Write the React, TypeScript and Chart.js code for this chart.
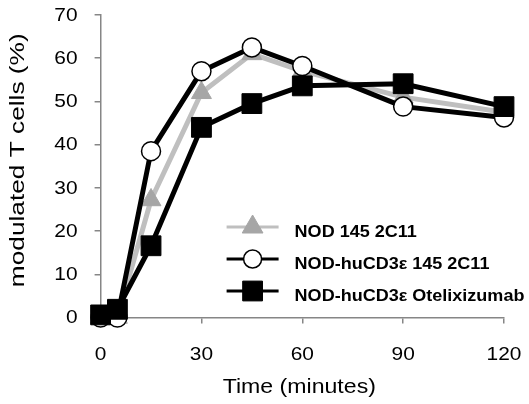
import React, { useEffect, useRef } from 'react';
import { Chart, registerables } from 'chart.js';

Chart.register(...registerables);

// ---- data ----
const timesMin = [0, 5, 15, 30, 45, 60, 90, 120];
const nod145 = [0, 0, 27.2, 52, 61, 57, 51, 47.5];
const huCD3e145 = [0, 0, 38.5, 57, 62.5, 58.2, 48.8, 46.3];
const huCD3eOtel = [0.6, 1.9, 16.6, 44, 49.5, 53.6, 54.1, 48.8];
const seriesLabels = ['NOD 145 2C11', 'NOD-huCD3ε 145 2C11', 'NOD-huCD3ε Otelixizumab'];
const xTickValues = [0, 30, 60, 90, 120];
const yTickValues = [0, 10, 20, 30, 40, 50, 60, 70];
const xTitle = 'Time (minutes)';
const yTitle = 'modulated T cells (%)';

const AXIS_GRAY = '#868686';
const LINE_GRAY = '#BFBFBF';
const MARK_GRAY = '#A6A6A6';
const SANS = '"Liberation Sans", Arial, sans-serif';

function stretchedText(ctx: CanvasRenderingContext2D, text: string, x: number, y: number, sx: number, align: CanvasTextAlign, rot = 0) {
  ctx.save();
  ctx.translate(x, y);
  if (rot) ctx.rotate(rot);
  ctx.scale(sx, 1);
  ctx.textAlign = align;
  ctx.textBaseline = 'middle';
  ctx.fillText(text, 0, 0);
  ctx.restore();
}

function drawMarker(ctx: CanvasRenderingContext2D, style: string, x: number, y: number, r: number, fill: string, stroke: string, bw: number) {
  ctx.save();
  ctx.fillStyle = fill;
  ctx.strokeStyle = stroke;
  ctx.lineWidth = bw;
  ctx.beginPath();
  if (style === 'triangle') {
    for (let k = 0; k < 3; k++) {
      const a = (k * 2 * Math.PI) / 3;
      const px = x + Math.sin(a) * r;
      const py = y - Math.cos(a) * r;
      if (k === 0) ctx.moveTo(px, py);
      else ctx.lineTo(px, py);
    }
    ctx.closePath();
  } else if (style === 'circle') {
    ctx.arc(x, y, r, 0, Math.PI * 2);
  } else {
    const s = Math.SQRT1_2 * r;
    ctx.rect(x - s, y - s, 2 * s, 2 * s);
  }
  ctx.fill();
  if (bw > 0) ctx.stroke();
  ctx.restore();
}

const labelPlugin = {
  id: 'stretchedLabels',
  afterDraw(chart: any) {
    const ctx: CanvasRenderingContext2D = chart.ctx;
    const xs = chart.scales.x;
    const ys = chart.scales.y;
    const area = chart.chartArea;
    ctx.save();
    ctx.fillStyle = '#000';
    ctx.font = `19px ${SANS}`;
    ys.ticks.forEach((t: any) => {
      stretchedText(ctx, String(t.value), area.left - 23, ys.getPixelForValue(t.value) + 0.5, 1.1, 'right');
    });
    xs.ticks.forEach((t: any) => {
      stretchedText(ctx, String(t.value), xs.getPixelForValue(t.value), area.bottom + 37, 1.1, 'center');
    });
    ctx.font = `21px ${SANS}`;
    stretchedText(ctx, xTitle, (area.left + area.right) / 2 - 3, area.bottom + 70, 1.1, 'center');
    ctx.font = `21px ${SANS}`;
    stretchedText(ctx, yTitle, 18, (area.top + area.bottom) / 2 - 6, 1.25, 'center', -Math.PI / 2);

    // legend
    const lx0 = area.left + 126;
    const lx1 = area.left + 178;
    const mx = (lx0 + lx1) / 2;
    const ly = area.top + 212;
    const gap = 32;
    chart.data.datasets.forEach((ds: any, i: number) => {
      const y = ly + i * gap;
      ctx.save();
      ctx.strokeStyle = ds.borderColor;
      ctx.lineWidth = 3;
      ctx.beginPath();
      ctx.moveTo(lx0, y);
      ctx.lineTo(lx1, y);
      ctx.stroke();
      ctx.restore();
      const r = ds.pointStyle === 'rect' ? 14 : ds.pointStyle === 'triangle' ? 12 : 9;
      drawMarker(ctx, ds.pointStyle, mx, y, r, ds.pointBackgroundColor, ds.pointBorderColor, ds.pointBorderWidth);
      ctx.fillStyle = '#000';
      ctx.font = `bold 17px ${SANS}`;
      stretchedText(ctx, ds.label, area.left + 194, y + 5, 1.06, 'left');
    });
    ctx.restore();
  },
};

export default function App() {
  const ref = useRef<HTMLCanvasElement | null>(null);

  useEffect(() => {
    if (!ref.current) return;
    const mk = (vals: number[]) => timesMin.map((x, i) => ({ x, y: vals[i] }));
    const chart = new Chart(ref.current, {
      type: 'line',
      data: {
        datasets: [
          {
            label: seriesLabels[0],
            data: mk(nod145),
            borderColor: LINE_GRAY,
            borderWidth: 5,
            pointStyle: 'triangle',
            pointRadius: 11.5,
            pointHoverRadius: 11.5,
            pointBackgroundColor: MARK_GRAY,
            pointBorderColor: MARK_GRAY,
            pointBorderWidth: 1,
            borderJoinStyle: 'round',
            tension: 0,
            order: 3,
            clip: false,
          } as any,
          {
            label: seriesLabels[1],
            data: mk(huCD3e145),
            borderColor: '#000',
            borderWidth: 5,
            pointStyle: 'circle',
            pointRadius: 9.5,
            pointHoverRadius: 9.5,
            pointBackgroundColor: '#fff',
            pointBorderColor: '#000',
            pointBorderWidth: 1.5,
            borderJoinStyle: 'round',
            tension: 0,
            order: 2,
            clip: false,
          } as any,
          {
            label: seriesLabels[2],
            data: mk(huCD3eOtel),
            borderColor: '#000',
            borderWidth: 5,
            pointStyle: 'rect',
            pointRadius: 14,
            pointHoverRadius: 14,
            pointBackgroundColor: '#000',
            pointBorderColor: '#000',
            pointBorderWidth: 1,
            borderJoinStyle: 'round',
            tension: 0,
            order: 1,
            clip: false,
          } as any,
        ],
      },
      options: {
        animation: false,
        responsive: true,
        maintainAspectRatio: false,
        events: [],
        layout: { padding: { top: 8.8, right: 25, left: 0, bottom: 0 } },
        plugins: {
          legend: { display: false },
          tooltip: { enabled: false },
          title: { display: false },
        },
        scales: {
          x: {
            type: 'linear',
            min: 0,
            max: 120,
            afterBuildTicks: (s: any) => {
              s.ticks = xTickValues.map((v) => ({ value: v }));
            },
            afterFit: (s: any) => {
              s.height = 86.5;
            },
            ticks: { display: false },
            grid: { display: true, drawOnChartArea: false, drawTicks: true, tickLength: 6, color: AXIS_GRAY, lineWidth: 1.5 },
            border: { display: true, color: AXIS_GRAY, width: 1.5 },
          },
          y: {
            type: 'linear',
            min: 0,
            max: 70,
            afterBuildTicks: (s: any) => {
              s.ticks = yTickValues.map((v) => ({ value: v }));
            },
            afterFit: (s: any) => {
              s.width = 100.6;
            },
            ticks: { display: false },
            grid: { display: true, drawOnChartArea: false, drawTicks: true, tickLength: 6, color: AXIS_GRAY, lineWidth: 1.5 },
            border: { display: true, color: AXIS_GRAY, width: 1.5 },
          },
        },
      } as any,
      plugins: [labelPlugin],
    });
    return () => chart.destroy();
  }, []);

  return (
    <div style={{ position: 'fixed', left: 0, top: 0, width: 529, height: 404, background: '#fff' }}>
      <canvas ref={ref} />
    </div>
  );
}
